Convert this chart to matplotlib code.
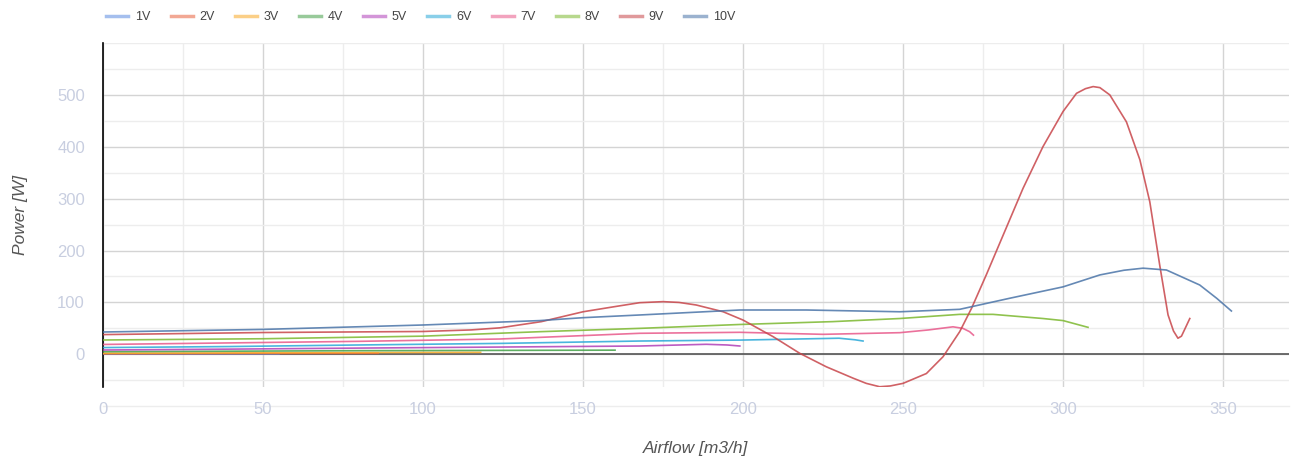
import matplotlib.pyplot as plt
from matplotlib.lines import Line2D
from matplotlib.ticker import MultipleLocator

plt.rcParams['font.family'] = ['Liberation Sans', 'DejaVu Sans']

# Data (airflow m3/h -> power W)
labels = ["1V", "2V", "3V", "4V", "5V", "6V", "7V", "8V", "9V", "10V"]

x_1v = [0, 20, 40, 55]
y_1v = [0.5, 0.6, 0.7, 0.8]
x_2v = [0, 20, 40, 60, 86]
y_2v = [1, 1.2, 1.5, 1.8, 2]
x_3v = [0, 30, 60, 90, 118]
y_3v = [2, 2.5, 3, 3.5, 3.8]
x_4v = [0, 40, 80, 120, 160]
y_4v = [5, 6, 7, 7.5, 8]
x_5v = [0, 40, 80, 124, 167.7, 188.5, 195, 199]
y_5v = [8.3, 10, 12, 14, 16, 19.3, 18, 16]
x_6v = [0, 40, 80, 124, 167.7, 199, 230, 235, 237.5]
y_6v = [13, 15, 18, 21, 25.6, 27.4, 31, 28, 25.6]
x_7v = [0, 40, 80, 124, 167.7, 199, 225, 249, 258, 265.6, 268.7, 270.8, 272]
y_7v = [19, 22, 25, 29.5, 40.5, 42.4, 38.5, 41.7, 47, 53, 50, 43.6, 37]
x_8v = [0, 50, 100, 136.5, 167.7, 199, 228, 249, 267.7, 278.1, 293.7, 300, 307.8]
y_8v = [27.6, 30, 35, 43.6, 50, 57.5, 63, 69, 77, 77, 69, 65, 52]
x_9v = [0, 50, 100, 115, 124, 137, 150, 160, 167.7, 175, 180, 185.4, 193.8,
        200, 209.4, 217.7, 226, 234.4, 238.5, 242.7, 246, 250, 257.3, 262.5,
        267.7, 271.4, 276, 281.3, 287.5, 293.7, 300, 304.2, 307, 309.4,
        311.5, 314.6, 319.8, 324, 327.1, 330.2, 332.8, 334.5, 335.9, 337,
        338, 339.6]
y_9v = [38, 42, 44, 47, 51, 63, 82, 92, 99.5, 101.5, 100, 95, 82,
        66, 34, 2, -24, -46, -56, -62.5, -61, -56, -37, -4.6,
        43.6, 88.7, 153, 230, 320, 400, 468, 503, 512, 516,
        514, 500, 448, 375, 294, 172, 76, 45, 31, 35,
        48, 69]
x_10v = [0, 50, 100, 136.5, 150, 167.7, 199, 219.8, 249, 267.7, 283.3, 300,
         311.5, 319, 325, 332.3, 342.7, 348, 352.6]
y_10v = [43, 48, 56.5, 65, 70.6, 75.8, 85.4, 85.4, 82, 86.7, 108, 130,
         153, 162, 166, 162.5, 133.6, 108, 83.5]

xs = [x_1v, x_2v, x_3v, x_4v, x_5v, x_6v, x_7v, x_8v, x_9v, x_10v]
ys = [y_1v, y_2v, y_3v, y_4v, y_5v, y_6v, y_7v, y_8v, y_9v, y_10v]

colors = ["#5b8ce0", "#e8613c", "#f9a825", "#43a047", "#b03fb8",
          "#29a8d8", "#e8588a", "#7cb82f", "#c8454a", "#4a74a8"]

fig = plt.figure(figsize=(13.04, 4.61), dpi=100)
ax = fig.add_axes([103 / 1304, 1 - 387 / 461, 1186 / 1304, 344 / 461])

for xv, yv, c in zip(xs, ys, colors):
    ax.plot(xv, yv, color=c, lw=1.2, alpha=0.85, zorder=3,
            solid_joinstyle='round')

ax.set_xlim(0, 370.6)
ax.set_ylim(-63, 600)

# grid: major and minor lines
ax.xaxis.set_major_locator(MultipleLocator(50))
ax.xaxis.set_minor_locator(MultipleLocator(25))
ax.yaxis.set_major_locator(MultipleLocator(100))
ax.yaxis.set_minor_locator(MultipleLocator(50))
ax.grid(which='major', color='#d4d4d4', lw=1.0)
ax.grid(which='minor', color='#ededed', lw=1.0)
ax.set_axisbelow(True)
ax.axhline(-100, color='#ededed', lw=1.0, clip_on=False, zorder=0)

# zero line and y axis
ax.axhline(0, color='#555555', lw=1.2, zorder=2)
for s in ['top', 'right', 'bottom']:
    ax.spines[s].set_visible(False)
ax.spines['left'].set_color('black')
ax.spines['left'].set_linewidth(1.2)

ax.set_yticks([0, 100, 200, 300, 400, 500])
ax.tick_params(which='both', length=0, labelsize=12, labelcolor='#c8cee0')
ax.tick_params(axis='x', pad=11)
ax.tick_params(axis='y', pad=13)

ax.set_xlabel("Airflow [m3/h]", fontsize=12.5, style='italic', color='#555555', labelpad=17)
ax.set_ylabel("Power [W]", fontsize=12.5, style='italic', color='#555555', labelpad=21)

handles = [Line2D([], [], color=c, lw=2.5, alpha=0.55) for c in colors]
fig.legend(handles, labels, ncol=10, loc='upper left',
           bbox_to_anchor=(100 / 1304, 1 - 5 / 461), frameon=False,
           fontsize=9, handlelength=1.76, handletextpad=0.55,
           columnspacing=1.6, borderpad=0, labelcolor='#444444')

fig.savefig("out.png", dpi=100)
